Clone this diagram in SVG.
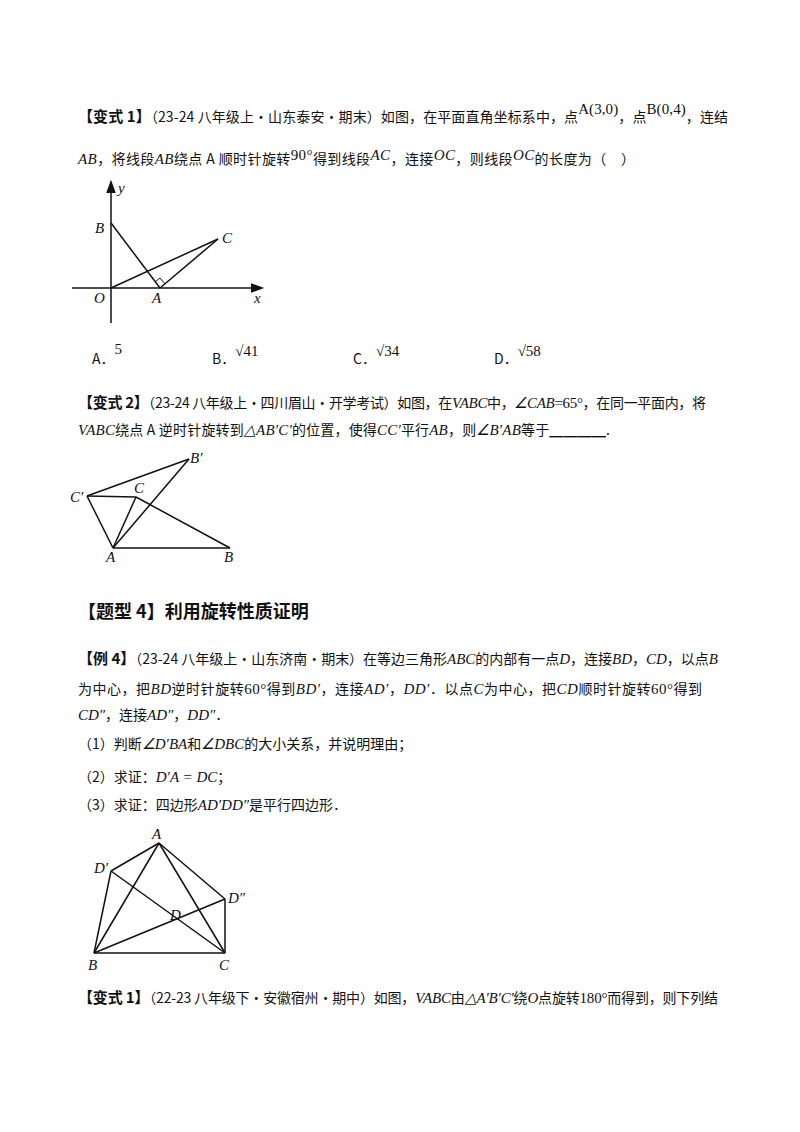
<svg xmlns="http://www.w3.org/2000/svg" width="800" height="1132" viewBox="0 0 800 1132">
<style>
text{font-family:"Noto Sans CJK SC","Liberation Serif",serif;font-size:14px;fill:#111}
.b{font-weight:bold;font-size:15px}
.m{font-family:"Liberation Serif",serif;font-style:italic;font-size:15px}
.r{font-family:"Liberation Serif",serif;font-size:15px}
.lb{font-family:"Liberation Serif",serif;font-style:italic;font-size:15px}
line,polyline{stroke:#111;stroke-width:1.5;fill:none}
</style>
<rect width="800" height="1132" fill="#fff"/>
<text x="78" y="122" textLength="650" lengthAdjust="spacing"><tspan class="b">【变式 1】</tspan>（23-24 八年级上·山东泰安·期末）如图，在平面直角坐标系中，点<tspan class="r" dy="-8">A(3,0)</tspan><tspan dy="8">，点</tspan><tspan class="r" dy="-8">B(0,4)</tspan><tspan dy="8">，连结</tspan></text>
<text x="78" y="164" textLength="557" lengthAdjust="spacing"><tspan class="m">AB</tspan>，将线段<tspan class="m">AB</tspan>绕点 A 顺时针旋转<tspan class="r" dy="-4">90°</tspan><tspan dy="4">得到线段</tspan><tspan class="m" dy="-4">AC</tspan><tspan dy="4">，连接</tspan><tspan class="m" dy="-4">OC</tspan><tspan dy="4">，则线段</tspan><tspan class="m" dy="-4">OC</tspan><tspan dy="4">的长度为（　）</tspan></text>
<g id="fig1">
<line x1="111" y1="323" x2="111" y2="186"/><polyline points="107,193 111,182 115,193" style="fill:#111"/>
<line x1="72" y1="288" x2="258" y2="288"/><polyline points="251,284 262,288 251,292" style="fill:#111"/>
<line x1="111" y1="223" x2="160" y2="288"/><line x1="160" y1="288" x2="218" y2="239"/><line x1="111" y1="288" x2="218" y2="239"/>
<polyline points="155,282 160,278 165,284" style="stroke-width:1"/>
<text class="lb" x="118" y="193">y</text><text class="lb" x="95" y="233">B</text><text class="lb" x="222" y="243">C</text>
<text class="lb" x="94" y="303">O</text><text class="lb" x="152" y="303">A</text><text class="lb" x="254" y="303">x</text>
</g>
<text x="92" y="364">A．<tspan class="r" dy="-10">5</tspan></text>
<text x="212" y="364">B．<tspan class="r" dy="-8">√41</tspan></text>
<text x="353" y="364">C．<tspan class="r" dy="-8">√34</tspan></text>
<text x="494" y="364">D．<tspan class="r" dy="-8">√58</tspan></text>
<text x="78" y="408" textLength="628" lengthAdjust="spacing"><tspan class="b">【变式 2】</tspan>（23-24 八年级上·四川眉山·开学考试）如图，在<tspan class="m">VABC</tspan>中，<tspan class="m">∠CAB</tspan><tspan class="r">=65°</tspan>，在同一平面内，将</text>
<text x="78" y="435" textLength="532" lengthAdjust="spacing"><tspan class="m">VABC</tspan>绕点 A 逆时针旋转到<tspan class="m">△AB′C′</tspan>的位置，使得<tspan class="m">CC′</tspan>平行<tspan class="m">AB</tspan>，则<tspan class="m">∠B′AB</tspan>等于<tspan text-decoration="underline">　　　　</tspan>.</text>
<g id="fig2">
<line x1="87" y1="496" x2="189" y2="459"/><line x1="87" y1="496" x2="136" y2="497"/><line x1="87" y1="496" x2="113" y2="548"/>
<line x1="113" y1="548" x2="136" y2="497"/><line x1="113" y1="548" x2="189" y2="459"/><line x1="113" y1="548" x2="230" y2="548"/><line x1="136" y1="497" x2="230" y2="548"/>
<text class="lb" x="190" y="463">B′</text><text class="lb" x="70" y="502">C′</text><text class="lb" x="134" y="493">C</text>
<text class="lb" x="106" y="562">A</text><text class="lb" x="224" y="562">B</text>
</g>
<text x="78" y="618" style="font-weight:bold;font-size:18px">【题型 4】利用旋转性质证明</text>
<text x="78" y="664" textLength="640" lengthAdjust="spacing"><tspan class="b">【例 4】</tspan>（23-24 八年级上·山东济南·期末）在等边三角形<tspan class="m">ABC</tspan>的内部有一点<tspan class="m">D</tspan>，连接<tspan class="m">BD</tspan>，<tspan class="m">CD</tspan>，以点<tspan class="m">B</tspan></text>
<text x="78" y="694" textLength="624" lengthAdjust="spacing">为中心，把<tspan class="m">BD</tspan>逆时针旋转<tspan class="r">60°</tspan>得到<tspan class="m">BD′</tspan>，连接<tspan class="m">AD′</tspan>，<tspan class="m">DD′</tspan>．以点<tspan class="m">C</tspan>为中心，把<tspan class="m">CD</tspan>顺时针旋转<tspan class="r">60°</tspan>得到</text>
<text x="78" y="720"><tspan class="m">CD″</tspan>，连接<tspan class="m">AD″</tspan>，<tspan class="m">DD″</tspan>．</text>
<text x="78" y="749">（1）判断<tspan class="m">∠D′BA</tspan>和<tspan class="m">∠DBC</tspan>的大小关系，并说明理由；</text>
<text x="78" y="782">（2）求证：<tspan class="m">D′A = DC</tspan>；</text>
<text x="78" y="810">（3）求证：四边形<tspan class="m">AD′DD″</tspan>是平行四边形．</text>
<g id="fig3">
<line x1="159" y1="843" x2="111" y2="871"/><line x1="159" y1="843" x2="94" y2="953"/><line x1="159" y1="843" x2="225" y2="953"/><line x1="159" y1="843" x2="225" y2="899"/>
<line x1="111" y1="871" x2="94" y2="953"/><line x1="111" y1="871" x2="225" y2="953"/><line x1="94" y1="953" x2="225" y2="899"/>
<line x1="94" y1="953" x2="225" y2="953"/><line x1="225" y1="899" x2="225" y2="953"/>
<text class="lb" x="152" y="839">A</text><text class="lb" x="94" y="873">D′</text><text class="lb" x="228" y="903">D″</text>
<text class="lb" x="170" y="920">D</text><text class="lb" x="88" y="970">B</text><text class="lb" x="219" y="970">C</text>
</g>
<text x="78" y="1003" textLength="640" lengthAdjust="spacing"><tspan class="b">【变式 1】</tspan>（22-23 八年级下·安徽宿州·期中）如图，<tspan class="m">VABC</tspan>由<tspan class="m">△A′B′C′</tspan>绕<tspan class="m">O</tspan>点旋转<tspan class="r">180°</tspan>而得到，则下列结</text>
</svg>
